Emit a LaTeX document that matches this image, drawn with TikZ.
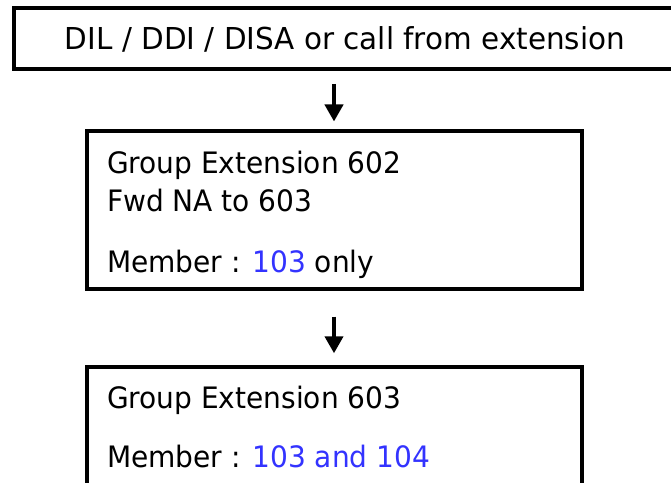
\documentclass[tikz,border=0pt]{standalone}
\usepackage{fontspec}
\setmainfont{DejaVu Sans}[FakeStretch=0.95]
\newfontfamily\callfont{DejaVu Sans}[FakeStretch=0.975]
\usetikzlibrary{arrows.meta,positioning}
\definecolor{memberblue}{RGB}{51,51,255}

\begin{document}
\begin{tikzpicture}[x=1pt,y=1pt,line width=4pt,
    box/.style={rectangle,draw,outer sep=0pt,inner sep=0pt,minimum width=495pt},
    line text/.style={anchor=base west,inner sep=0pt,font=\fontsize{29.5}{35}\selectfont},
    flow/.style={-{Triangle[width=18pt,length=17pt]}}]
  \useasboundingbox (0,0) rectangle (671,482);
      \node[box,minimum width=662pt,minimum height=61pt,font=\callfont\fontsize{30.2}{36}\selectfont] (call) at (345,443) {DIL / DDI / DISA or call from extension};
      \node[box,minimum height=158pt] (g602) [below=62pt of call,xshift=-11pt] {};
      \node[box,minimum height=119pt] (g603) [below=77.5pt of g602] {};

      \node[line text] (g602-name) at ([xshift=18.5pt,yshift=-42.3pt]g602.north west) {Group Extension 602};
      \node[line text] (g602-fwd) at ([yshift=-38pt]g602-name.base west) {Fwd NA to 603};
      \node[line text] (g602-member) at ([yshift=-61pt]g602-fwd.base west) {Member : \textcolor{memberblue}{103} only};

      \node[line text] (g603-name) at ([xshift=18.5pt,yshift=-41.3pt]g603.north west) {Group Extension 603};
      \node[line text] (g603-member) at ([yshift=-59pt]g603-name.base west) {Member : \textcolor{memberblue}{103 and 104}};

      \draw[flow,shorten <=14.5pt,shorten >=10pt] (call.south -| g602.north) -- (g602.north);
      \draw[flow,shorten <=27pt,shorten >=13.7pt] (g602) -- (g603);

    \end{tikzpicture}
\end{document}
